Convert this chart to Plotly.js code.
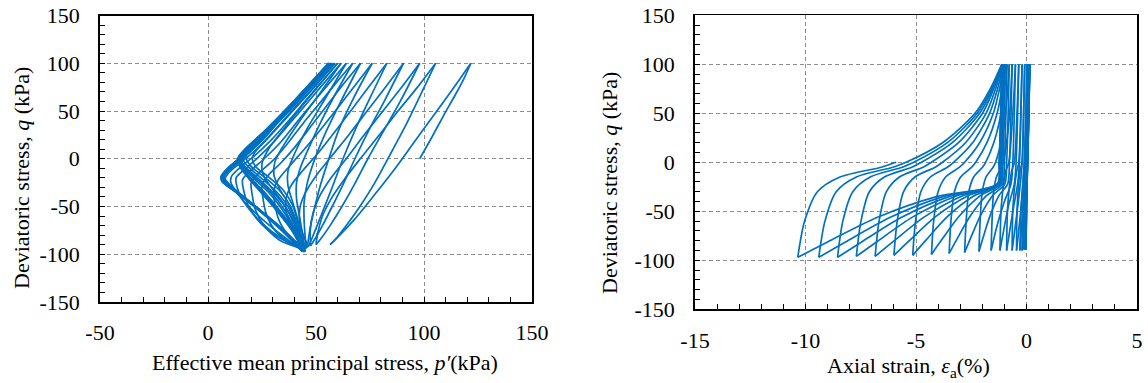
<!DOCTYPE html>
<html><head><meta charset="utf-8">
<script src="https://cdn.plot.ly/plotly-3.0.1.min.js"></script>
<style>html,body{margin:0;padding:0;background:#fff}</style>
</head><body><div id="chart" style="width:1148px;height:383px"></div>
<script>
// ---------- Left chart: effective stress path [p' (kPa), q (kPa)] ----------
const pathCycles1to5 = [
[98,0],[103.5,22],[109,45],[114.5,67],[118.5,84],[121.7,100],
[113,72],[104,44],[95,16],[86,-12],[77,-38],[68,-63],[61,-80],[56.5,-90],
[59.5,-83],[64,-70],[70,-51],[77,-26],[84,3],[92,37],[99.5,72],[105.4,100],
[97,75],[88,50],[79,24],[70.5,0],[63,-22],[57,-42],[53,-60],[50.8,-78],[50,-90],
[52.5,-83],[56.5,-70],[62,-50],[68,-26],[74,0],[81,28],[89,60],[98,100],
[90,76],[81,50],[72,24],[64,0],[57,-20],[51.5,-40],[48.5,-58],[47.3,-76],[47.5,-91],
[49.5,-84],[53,-70],[57.5,-50],[62.5,-27],[68,0],[74.5,30],[82,62],[90.5,100],
[82.5,76],[74,51],[65.5,26],[57,2],[50,-18],[45,-36],[42.5,-52],[42.5,-68],[44.5,-82],[46.5,-92],
[48,-84],[50.5,-70],[54,-50],[58,-27],[62.5,0],[68.5,32],[75.5,66],[82.8,100],
[75,77],[67,53],[59,29],[51,6],[44,-12],[38.5,-28],[36,-44],[37,-62],[41,-80],[46,-93]
];
const pathCycles6to11 = [
[46.5,-84],[47.5,-70],[49.5,-50],[52,-28],[55.5,-3],[60.5,30],[67.5,64],[76,100],
[68.5,78],[61,56],[53,33],[45,11],[38,-7],[32.5,-22],[30.5,-33],[31,-48],[33,-65],[38,-82],[45.5,-94],
[45,-82],[44.5,-65],[44.5,-45],[46,-25],[49,-3],[54,25],[61.5,60],[70.6,100],
[63,79],[55.5,57],[48,35],[40.5,13],[33.5,-5],[28,-17],[25,-28],[25.5,-42],[27,-58],[31,-75],[37.5,-88],[45,-95],
[44,-82],[42.5,-62],[41,-42],[41,-25],[43,-8],[47,13],[53,42],[60,72],[67,100],
[59.5,80],[52,59],[44,37],[36.5,15],[29.5,-3],[23.5,-15],[20,-25],[20.5,-38],[22,-54],[26,-70],[33,-85],[44.8,-95],
[43.5,-82],[41.5,-63],[39,-44],[37,-28],[37,-13],[40,5],[45.5,30],[54,62],[64,100],
[56.5,80],[49,60],[41,38],[33.5,17],[26,0],[20,-12],[16,-22],[16.5,-33],[18.5,-48],[23,-64],[31,-80],[44.5,-96],
[43,-83],[40.5,-64],[37,-46],[33,-31],[30.5,-17],[31,-3],[35,14],[42,38],[51,66],[61.6,100],
[54,80],[46.5,60],[39,40],[31,19],[23.5,2],[17.5,-10],[13,-20],[13.5,-30],[16,-43],[21,-58],[29.5,-76],[44.3,-96],
[42.5,-83],[39.5,-65],[35,-47],[30,-32],[26,-19],[25,-5],[28,10],[35,31],[46,62],[60,100],
[52,79],[44.5,59],[37,39],[29,19],[21.5,3],[15.5,-8],[11,-18],[10.5,-24],[12,-31],[16,-43],[23,-59],[33,-78],[44,-96.5]
];
const pathCycles12to17 = [
[43,-83],[41.5,-66],[39,-48],[34.5,-32],[28,-19],[22,-8],[20.5,0],[21.5,6],[28,22],[38,47],[48.5,73],[58.8,100],
[50.5,79],[42,58],[34,38],[26,18],[19.5,4],[14,-6],[9.5,-15],[8,-21],[11.5,-30],[20,-46],[30,-66],[38,-82],[44,-97],
[43,-84],[41,-67],[38,-49],[33,-33],[26,-19],[20,-8],[17.5,2],[22,15],[31,36],[42,62],[51,83],[58,100],
[49.5,79],[41,58],[32.5,38],[25,19],[19,6],[14,-4],[9.5,-13],[7.5,-19],[9,-27],[16,-40],[25,-57],[35,-77],[43.8,-97],
[42.8,-85],[40.5,-68],[37,-50],[31.5,-34],[24.5,-20],[18.5,-8],[15.8,1],[19,12],[28,31],[39,56],[49,80],[57.5,100],
[49,79],[40.5,58],[32,37],[24.5,19],[18.5,6],[14,-3],[9.5,-12],[7,-19],[8,-25],[14,-36],[24,-54],[34.5,-75],[44.2,-97],
[43,-85],[40,-69],[36,-51],[30,-35],[23,-20],[17,-8],[15,1],[18.5,11],[27.5,30],[38.5,55],[48.5,79],[57,100],
[48.5,79],[40,58],[31.5,37],[24,19],[18,6],[13.5,-3],[9,-12],[6.8,-19],[7.5,-24],[13,-34],[23,-52],[34,-74],[44.5,-97],
[43,-86],[39.5,-70],[35,-52],[29,-35],[22,-20],[16.5,-8],[14.5,1],[18,10],[27,29],[38,54],[48,78],[56.8,100],
[48.5,79],[40,58],[31.5,37],[24,19],[18,6],[13.5,-3],[9,-12],[6.7,-19],[7.3,-24],[12.5,-33],[22.5,-51],[33.5,-73],[44,-97],
[42.5,-86],[39,-70],[34,-52],[28,-35],[21,-20],[16,-8],[14.5,1],[17.8,10],[26.8,29],[37.8,54],[47.8,78],[56.5,100],
[48,79],[39.5,58],[31,37],[23.8,19],[17.8,6],[13.3,-3],[8.8,-12],[6.6,-19],[7.2,-24],[12.3,-33],[22.3,-51],[33.3,-73],[43.5,-97]
];
const pathCycles18to23 = [
[41.5,-86],[37.5,-70],[32,-52],[26,-35],[19.8,-20],[15.3,-8],[14.4,1],[17.6,10],[26.6,29],[37.6,54],[47.6,78],[56.3,100],
[47.8,79],[39.3,58],[30.8,37],[23.6,19],[17.6,6],[13.2,-3],[8.7,-12],[6.5,-19],[7.1,-24],[12.2,-33],[22.5,-51],[34,-73],[44.8,-97],
[42.8,-86],[38.5,-70],[32.5,-52],[26,-35],[19.5,-20],[15.2,-8],[14.3,1],[17.5,10],[26.5,29],[37.5,54],[47.5,78],[56.2,100],
[47.6,79],[39.1,58],[30.6,37],[23.4,19],[17.4,6],[13,-3],[8.6,-12],[6.4,-19],[7,-24],[12.2,-33],[22.6,-51],[34.2,-73],[45,-97],
[43,-86],[38.2,-70],[32,-52],[25.3,-35],[19.2,-20],[15,-8],[14.2,1],[17.4,10],[26.4,29],[37.4,54],[47.4,78],[56,100],
[47.5,79],[39,58],[30.5,37],[23.3,19],[17.3,6],[12.9,-3],[8.5,-12],[6.3,-19],[6.9,-24],[12,-33],[22.3,-51],[33.8,-73],[44.5,-97],
[42.5,-86],[37.8,-70],[31.5,-52],[25,-35],[19,-20],[14.9,-8],[14.1,1],[17.3,10],[26.3,29],[37.3,54],[47.3,78],[56,100],
[47.4,79],[38.9,58],[30.4,37],[23.2,19],[17.2,6],[12.8,-3],[8.4,-12],[6.2,-19],[6.8,-24],[11.8,-33],[22,-51],[33.4,-73],[44,-97],
[42,-86],[37.2,-70],[31,-52],[24.5,-35],[18.8,-20],[14.8,-8],[14,1],[17.2,10],[26.2,29],[37.2,54],[47.2,78],[55.8,100],
[47.3,79],[38.8,58],[30.3,37],[23.1,19],[17.1,6],[12.7,-3],[8.3,-12],[6.1,-19],[6.7,-24],[11.8,-33],[22.2,-51],[33.8,-73],[44.5,-97.5],
[42.5,-86],[37.5,-70],[31,-52],[24.5,-35],[18.7,-20],[14.7,-8],[14,1],[17.2,10],[26.2,29],[37.2,54],[47.2,78],[55.8,100],
[47.3,79],[38.8,58],[30.3,37],[23,19],[17,6],[12.6,-3],[8.2,-12],[6,-19],[6.6,-24],[11.8,-33],[22.4,-51],[34.2,-73],[45,-97.5],
[43,-86],[38,-70],[31.5,-52],[25,-35],[19,-20],[15.5,-8],[15,0]
];

// ---------- Right chart: axial strain [eps_a (%), q (kPa)] ----------
const strainCycles1to8 = [
[0,0],[0.05,50],[0.10,100],
[0.07,50],[0.03,0],[0.0,-45],[-0.02,-88],
[0.0,-45],[0.04,0],[0.09,50],[0.13,100],
[0.1,50],[0.05,0],[0.0,-45],[-0.03,-89],
[0.0,-45],[0.05,0],[0.1,50],[0.15,100],
[0.11,50],[0.05,0],[-0.01,-45],[-0.05,-89],
[-0.02,-45],[0.05,0],[0.1,50],[0.15,100],
[0.1,50],[0.04,0],[-0.03,-45],[-0.08,-89],
[-0.04,-45],[0.03,0],[0.09,50],[0.14,100],
[0.09,50],[0.02,0],[-0.06,-45],[-0.12,-89],
[-0.08,-45],[0.01,0],[0.07,50],[0.12,100],
[0.07,50],[-0.01,0],[-0.1,-45],[-0.2,-90],
[-0.15,-45],[-0.04,0],[0.03,50],[0.08,100],
[0.03,50],[-0.06,0],[-0.16,-45],[-0.3,-90],
[-0.24,-45],[-0.1,0],[-0.02,50],[0.02,100],
[-0.03,50],[-0.1,0],[-0.2,-35],[-0.45,-90]
];
const strainCycles9to12 = [
[-0.42,-45],[-0.3,-10],[-0.2,0],[-0.13,50],[-0.08,100],
[-0.13,50],[-0.2,0],[-0.28,-22],[-0.45,-55],[-0.65,-90],
[-0.61,-45],[-0.45,-10],[-0.35,0],[-0.26,50],[-0.2,100],
[-0.25,50],[-0.32,0],[-0.4,-22],[-0.62,-50],[-0.9,-90],
[-0.85,-45],[-0.68,-10],[-0.55,0],[-0.43,50],[-0.35,100],
[-0.4,50],[-0.47,0],[-0.55,-22],[-0.82,-45],[-1.2,-90],
[-1.14,-45],[-0.95,-10],[-0.8,0],[-0.62,50],[-0.5,100],
[-0.55,50],[-0.62,0],[-0.7,-22],[-1.0,-40],[-1.3,-62],[-1.6,-90]
];
const strainCycles13to18 = [
[-1.56,-60],[-1.49,-30],[-1.36,-15],[-1.13,-5],[-1.05,0],[-0.90,20],[-0.76,50],[-0.70,75],[-0.65,100],
[-0.70,50],[-0.77,0],[-0.85,-22],[-1.24,-33.7],[-1.63,-53.4],[-1.96,-76.5],[-2.15,-91],
[-2.10,-60],[-2.0,-30],[-1.83,-15],[-1.51,-5],[-1.4,0],[-1.16,20],[-0.95,50],[-0.85,75],[-0.78,100],
[-0.83,50],[-0.90,0],[-0.98,-22],[-1.53,-33.9],[-2.07,-53.9],[-2.53,-77.3],[-2.8,-92],
[-2.73,-60],[-2.61,-30],[-2.39,-15],[-1.99,-5],[-1.85,0],[-1.48,20],[-1.15,50],[-1.0,75],[-0.88,100],
[-0.93,50],[-1.0,0],[-1.08,-22],[-1.81,-34.1],[-2.53,-54.3],[-3.14,-78.1],[-3.5,-93],
[-3.42,-60],[-3.26,-30],[-2.98,-15],[-2.48,-5],[-2.3,0],[-1.79,20],[-1.33,50],[-1.11,75],[-0.95,100],
[-1.0,50],[-1.07,0],[-1.15,-22],[-2.10,-34.2],[-3.04,-54.8],[-3.83,-78.9],[-4.3,-94],
[-4.20,-60],[-4.0,-30],[-3.66,-15],[-3.03,-5],[-2.8,0],[-2.12,20],[-1.50,50],[-1.22,75],[-1.0,100],
[-1.05,50],[-1.12,0],[-1.2,-22],[-2.39,-34.4],[-3.57,-55.2],[-4.56,-79.7],[-5.15,-95],
[-5.02,-60],[-4.78,-30],[-4.35,-15],[-3.58,-5],[-3.3,0],[-2.44,20],[-1.67,50],[-1.31,75],[-1.04,100],
[-1.09,50],[-1.16,0],[-1.24,-22],[-2.67,-34.4],[-4.10,-55.2],[-5.29,-79.7],[-6.0,-95]
];
const strainCycles19to23 = [
[-5.85,-60],[-5.56,-30],[-5.05,-15],[-4.13,-5],[-3.8,0],[-2.76,20],[-1.83,50],[-1.40,75],[-1.07,100],
[-1.12,50],[-1.19,0],[-1.27,-22],[-2.94,-34.6],[-4.62,-55.7],[-6.01,-80.5],[-6.85,-96],
[-6.67,-60],[-6.34,-30],[-5.75,-15],[-4.68,-5],[-4.3,0],[-3.08,20],[-1.99,50],[-1.48,75],[-1.09,100],
[-1.14,50],[-1.21,0],[-1.29,-22],[-3.21,-34.6],[-5.14,-55.7],[-6.74,-80.5],[-7.7,-96],
[-7.49,-60],[-7.11,-30],[-6.43,-15],[-5.19,-5],[-4.75,0],[-3.36,20],[-2.12,50],[-1.54,75],[-1.1,100],
[-1.15,50],[-1.22,0],[-1.3,-22],[-3.48,-34.8],[-5.65,-56.1],[-7.46,-81.3],[-8.55,-97],
[-8.31,-60],[-7.86,-30],[-7.07,-15],[-5.62,-5],[-5.1,0],[-3.58,20],[-2.23,50],[-1.59,75],[-1.11,100],
[-1.16,50],[-1.23,0],[-1.31,-22],[-3.74,-34.8],[-6.16,-56.1],[-8.19,-81.3],[-9.4,-97],
[-9.12,-60],[-8.61,-30],[-7.70,-15],[-6.04,-5],[-5.45,0],[-3.80,20],[-2.33,50],[-1.64,75],[-1.12,100],
[-1.17,50],[-1.24,0],[-1.32,-22],[-4.03,-34.8],[-6.74,-56.1],[-9.0,-81.3],[-10.35,-97],
[-10.04,-60],[-9.46,-30],[-8.44,-15],[-6.57,-5],[-5.9,0]
];

// ---------- Axis ticks ----------
const leftXTicks = [-50, 0, 50, 100, 150];
const leftXLabels = ['-50', '0', '50', '100', '150'];
const rightXTicks = [-15, -10, -5, 0, 5];
const rightXLabels = ['-15', '-10', '-5', '0', '5'];
const qTicks = [-150, -100, -50, 0, 50, 100, 150];
const qLabels = ['-150', '-100', '-50', '0', '50', '100', '150'];

const stressPath = [].concat(pathCycles1to5, pathCycles6to11, pathCycles12to17, pathCycles18to23);
const strainPath = [].concat(strainCycles1to8, strainCycles9to12, strainCycles13to18, strainCycles19to23);

// split a loading path into monotonic (in q) branches so reversals stay sharp
function branches(pts) {
  const out = [];
  let cur = [pts[0]];
  let dir = 0;
  for (let i = 1; i < pts.length; i++) {
    const d = Math.sign(pts[i][1] - pts[i - 1][1]);
    if (dir !== 0 && d !== 0 && d !== dir) {
      out.push(cur);
      cur = [pts[i - 1]];
    }
    if (d !== 0) dir = d;
    cur.push(pts[i]);
  }
  out.push(cur);
  return out;
}

const BLUE = '#0070C0';
const traces = [];
branches(stressPath).forEach(b => traces.push({
  x: b.map(p => p[0]), y: b.map(p => p[1]), xaxis: 'x', yaxis: 'y',
  type: 'scatter', mode: 'lines', hoverinfo: 'skip', showlegend: false,
  line: {color: BLUE, width: 1.7, shape: 'spline', smoothing: 0.8}
}));
branches(strainPath).forEach(b => traces.push({
  x: b.map(p => p[0]), y: b.map(p => p[1]), xaxis: 'x2', yaxis: 'y2',
  type: 'scatter', mode: 'lines', hoverinfo: 'skip', showlegend: false,
  line: {color: BLUE, width: 1.7, shape: 'spline', smoothing: 0.8}
}));

const FONT = 'Liberation Serif';
const tickFont = {family: FONT, size: 22, color: '#000'};
function axis(range, vals, labels, minorStep, domain, anchor, standoff) {
  return {
    range: range, domain: domain, anchor: anchor,
    tickmode: 'array', tickvals: vals, ticktext: labels,
    tickfont: tickFont, ticks: 'inside', ticklen: 5, tickwidth: 1, tickcolor: '#000',
    ticklabelstandoff: standoff,
    minor: {dtick: minorStep, ticks: 'inside', ticklen: 5, tickwidth: 1, tickcolor: '#000', showgrid: false},
    showgrid: true, gridcolor: '#8c8c8c', gridwidth: 1, griddash: '4px,3px',
    showline: true, linecolor: '#000', linewidth: 1.8, mirror: true,
    zeroline: false, fixedrange: true
  };
}

const W = 1148, H = 383;
const titleFont = {family: FONT, size: 22, color: '#000'};
const layout = {
  width: W, height: H,
  margin: {l: 0, r: 0, t: 0, b: 0},
  paper_bgcolor: '#fff', plot_bgcolor: '#fff',
  showlegend: false,
  xaxis: axis([-50, 150], leftXTicks, leftXLabels, 10, [100 / W, 532 / W], 'y', 10),
  yaxis: axis([-150, 150], qTicks, qLabels, 10, [1 - 302 / H, 1 - 15.5 / H], 'x', 14),
  xaxis2: axis([-15, 5], rightXTicks, rightXLabels, 1, [695 / W, 1137 / W], 'y2', 10),
  yaxis2: axis([-150, 150], qTicks, qLabels, 10, [1 - 309.3 / H, 1 - 15.3 / H], 'x2', 14),
  annotations: [
    {text: 'Deviatoric stress, <i>q</i> (kPa)', xref: 'paper', yref: 'paper',
     x: 21 / W, y: 1 - 178 / H, textangle: -90, showarrow: false,
     xanchor: 'center', yanchor: 'middle', font: titleFont},
    {text: 'Effective mean principal stress, <i>p′</i>(kPa)', xref: 'paper', yref: 'paper',
     x: 325 / W, y: 1 - 362 / H, showarrow: false,
     xanchor: 'center', yanchor: 'middle', font: titleFont},
    {text: 'Deviatoric stress, <i>q</i> (kPa)', xref: 'paper', yref: 'paper',
     x: 609 / W, y: 1 - 183 / H, textangle: -90, showarrow: false,
     xanchor: 'center', yanchor: 'middle', font: titleFont},
    {text: 'Axial strain, <i>ε</i><sub>a</sub>(%)', xref: 'paper', yref: 'paper',
     x: 908 / W, y: 1 - 367 / H, showarrow: false,
     xanchor: 'center', yanchor: 'middle', font: titleFont}
  ]
};

Plotly.newPlot('chart', traces, layout, {staticPlot: true, displayModeBar: false});
</script></body></html>
